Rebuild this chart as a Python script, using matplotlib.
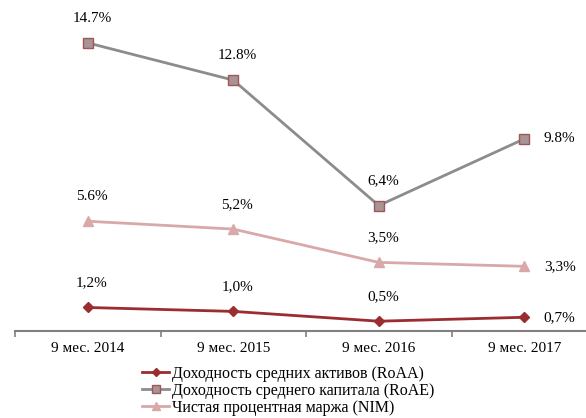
import matplotlib.pyplot as plt

periods = ["9 мес. 2014", "9 мес. 2015", "9 мес. 2016", "9 мес. 2017"]
roaa = [1.2, 1.0, 0.5, 0.7]
roae = [14.7, 12.8, 6.4, 9.8]
nim = [5.6, 5.2, 3.5, 3.3]

roaa_labels = ["1,2%", "1,0%", "0,5%", "0,7%"]
roae_labels = ["14.7%", "12.8%", "6,4%", "9.8%"]
nim_labels = ["5.6%", "5,2%", "3,5%", "3,3%"]

names = ["Доходность средних активов (RoAA)",
         "Доходность среднего капитала (RoAE)",
         "Чистая процентная маржа (NIM)"]

plt.rcParams['font.family'] = ['Liberation Serif', 'DejaVu Serif']

fig = plt.figure(figsize=(5.86, 4.18), dpi=100)
# ось X на y=331 px, верх на y=0
ax = fig.add_axes([15 / 586, (418 - 331) / 418, 582 / 586, 331 / 418])

x = list(range(len(periods)))

l1, = ax.plot(x, roaa, color="#9B2D30", lw=2, marker="D", ms=5,
              mfc="#9B2D30", mec="#9B2D30")
l2, = ax.plot(x, roae, color="#8C8C8C", lw=2, marker="s", ms=7,
              mfc="#A89494", mec="#A0555A", mew=1)
l3, = ax.plot(x, nim, color="#D9A8A8", lw=2, marker="^", ms=7,
              mfc="#D9A8A8", mec="#D9A8A8")

def add_labels(vals, labels):
    for i, (v, t) in enumerate(zip(vals, labels)):
        if i == len(vals) - 1:
            ax.annotate(t, (i, v), xytext=(14, 0), textcoords="offset points",
                        ha="left", va="center", fontsize=11)
        else:
            ax.annotate(t, (i, v), xytext=(3, 13), textcoords="offset points",
                        ha="center", va="bottom", fontsize=11)

add_labels(roaa, roaa_labels)
add_labels(roae, roae_labels)
add_labels(nim, nim_labels)

ax.set_xlim(-0.5, 3.5)
ax.set_ylim(0, 331 / 19.6)

for s in ["top", "right", "left"]:
    ax.spines[s].set_visible(False)
ax.spines["bottom"].set_color("#808080")
ax.spines["bottom"].set_linewidth(1.5)

ax.set_yticks([])
ax.set_xticks(x)
ax.set_xticklabels(periods, fontsize=11)
ax.tick_params(axis="x", which="major", length=0, pad=8)
ax.set_xticks([-0.5, 0.5, 1.5, 2.5, 3.5], minor=True)
ax.tick_params(axis="x", which="minor", length=4, color="#808080", width=1.2)

fig.legend([l1, l2, l3], names, loc="upper left",
           bbox_to_anchor=(134 / 586, 1 - 358 / 418),
           frameon=False, fontsize=11.5, handlelength=1.7,
           handletextpad=0.15, labelspacing=0.05, borderpad=0,
           markerscale=0.8)

fig.savefig("out.png", dpi=100)
